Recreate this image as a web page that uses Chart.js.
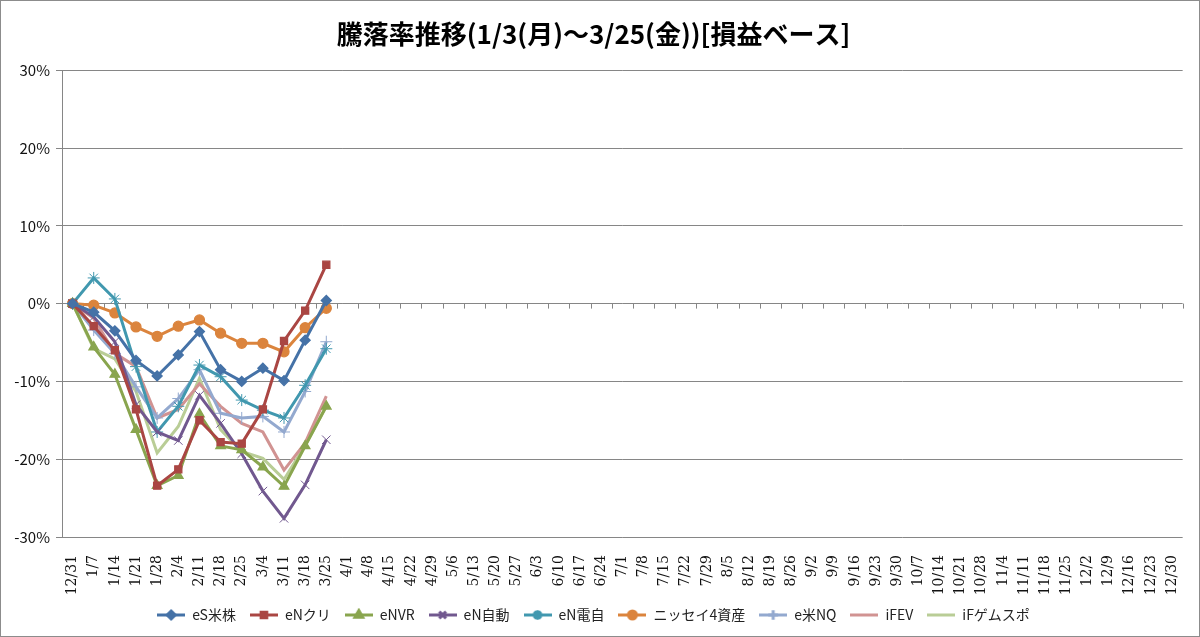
<!DOCTYPE html>
<html>
<head>
<meta charset="utf-8">
<script src="https://cdn.jsdelivr.net/npm/chart.js@4.4.1/dist/chart.umd.min.js"></script>
<style>
  html, body { margin: 0; padding: 0; background: #fff; }
  #wrap { position: relative; width: 1200px; height: 637px; box-sizing: border-box; border: 1px solid #8c8c8c; }
</style>
</head>
<body>
<div id="wrap"><canvas id="chart" width="1198" height="635"></canvas></div>
<script>
const weeks = ['12/31','1/7','1/14','1/21','1/28','2/4','2/11','2/18','2/25','3/4','3/11','3/18','3/25',
  '4/1','4/8','4/15','4/22','4/29','5/6','5/13','5/20','5/27','6/3','6/10','6/17','6/24',
  '7/1','7/8','7/15','7/22','7/29','8/5','8/12','8/19','8/26','9/2','9/9','9/16','9/23','9/30',
  '10/7','10/14','10/21','10/28','11/4','11/11','11/18','11/25','12/2','12/9','12/16','12/23','12/30'];

// 騰落率 (%)
const esBeikabu = [0, -1.1, -3.5, -7.3, -9.3, -6.6, -3.6, -8.5, -10.0, -8.3, -9.9, -4.7, 0.4];
const enKuri    = [0, -2.9, -6.0, -13.6, -23.4, -21.3, -15.0, -17.8, -18.0, -13.6, -4.8, -0.9, 5.0];
const enNVR     = [0, -5.6, -9.1, -16.2, -23.4, -22.1, -14.2, -18.3, -18.8, -21.0, -23.5, -18.3, -13.2];
const enJidou   = [0, -1.7, -4.9, -13.0, -16.5, -17.6, -11.8, -15.4, -19.3, -24.1, -27.6, -23.3, -17.5];
const enDenji   = [0, 3.3, 0.6, -8.1, -16.5, -13.2, -7.9, -9.4, -12.4, -13.7, -14.7, -10.5, -5.8];
const nissei4   = [0, -0.2, -1.2, -3.0, -4.2, -2.9, -2.1, -3.8, -5.1, -5.1, -6.2, -3.1, -0.6];
const eBeiNQ    = [0, -3.4, -6.4, -10.7, -14.7, -12.2, -8.5, -14.1, -14.7, -14.5, -16.5, -11.3, -4.9];
const ifEV      = [0, -1.9, -6.4, -8.1, -14.7, -13.6, -10.3, -13.2, -15.4, -16.5, -21.4, -17.9, -11.9];
const ifGame    = [0, -5.8, -7.1, -11.3, -19.2, -15.8, -9.6, -16.2, -19.0, -19.9, -22.6, -18.2, -13.2];

const yTicks = [-30, -20, -10, 0, 10, 20, 30];

const series = [
  { label: 'eS米株', data: esBeikabu, color: '#4572A7', style: 'rectRot', r: 5, bw: 1.3 },
  { label: 'eNクリ', data: enKuri, color: '#AA4643', style: 'rect', r: 5, bw: 1.3 },
  { label: 'eNVR', data: enNVR, color: '#89A54E', style: 'triangle', r: 5.5, bw: 1.3 },
  { label: 'eN自動', data: enJidou, color: '#71588F', style: 'crossRot', r: 6, bw: 1 },
  { label: 'eN電自', data: enDenji, color: '#4198AF', style: 'star', r: 6, bw: 1 },
  { label: 'ニッセイ4資産', data: nissei4, color: '#DB843D', style: 'circle', r: 5, bw: 1.3 },
  { label: 'e米NQ', data: eBeiNQ, color: '#93A9CF', style: 'cross', r: 6, bw: 1 },
  { label: 'iFEV', data: ifEV, color: '#D19392', style: false, r: 0, bw: 0 },
  { label: 'iFゲムスポ', data: ifGame, color: '#B9CD96', style: false, r: 0, bw: 0 }
];

function legendIcon(s) {
  const c = document.createElement('canvas');
  c.width = 28; c.height = 14;
  const g = c.getContext('2d');
  g.strokeStyle = s.color; g.lineWidth = 3;
  g.beginPath(); g.moveTo(0, 7); g.lineTo(28, 7); g.stroke();
  if (s.style) {
    g.fillStyle = s.color; g.strokeStyle = s.color;
    Chart.helpers.drawPoint(g, { pointStyle: s.style, radius: s.r * 0.8, borderWidth: s.bw, rotation: 0 }, 14, 7);
  }
  return c;
}

const font = "'Noto Sans CJK JP', 'Liberation Sans', sans-serif";

// Excel風の 0% 軸目盛り
const zeroTicks = {
  id: 'zeroTicks',
  beforeDatasetsDraw(chart) {
    const x = chart.scales.x, y = chart.scales.y, ctx = chart.ctx;
    const y0 = y.getPixelForValue(0);
    const step = (x.right - x.left) / weeks.length;
    ctx.save();
    ctx.strokeStyle = '#868686'; ctx.lineWidth = 1;
    ctx.beginPath();
    for (let i = 0; i <= weeks.length; i++) {
      const px = Math.round(x.left + i * step) + 0.5;
      ctx.moveTo(px, y0); ctx.lineTo(px, y0 + 5);
    }
    ctx.stroke();
    ctx.restore();
  }
};

new Chart(document.getElementById('chart'), {
  type: 'line',
  data: {
    labels: weeks,
    datasets: series.map(s => ({
      label: s.label,
      data: s.data,
      borderColor: s.color,
      backgroundColor: s.color,
      borderWidth: 3,
      pointStyle: s.style || 'circle',
      pointRadius: s.r,
      pointBorderWidth: s.bw,
      pointBackgroundColor: s.color,
      pointBorderColor: s.color,
      tension: 0,
      icon: legendIcon(s)
    }))
  },
  options: {
    responsive: false,
    animation: false,
    layout: { padding: { left: 0, right: 13, top: 0, bottom: 4 } },
    plugins: {
      title: {
        display: true,
        text: '騰落率推移(1/3(月)～3/25(金))[損益ベース]',
        color: '#000',
        font: { family: font, size: 26, weight: 'bold' },
        padding: { top: 18, bottom: 20 }
      },
      legend: {
        position: 'bottom',
        labels: {
          usePointStyle: true,
          pointStyleWidth: 28,
          padding: 14,
          color: '#222',
          font: { family: font, size: 14 },
          generateLabels(chart) {
            return chart.data.datasets.map((d, i) => ({
              text: d.label,
              pointStyle: d.icon,
              fillStyle: d.borderColor,
              strokeStyle: d.borderColor,
              lineWidth: 0,
              hidden: false,
              datasetIndex: i,
              fontColor: '#222'
            }));
          }
        }
      },
      tooltip: { enabled: false }
    },
    scales: {
      x: {
        offset: true,
        grid: { display: false },
        border: { display: false },
        afterFit(scale) { scale.height = 57; },
        ticks: {
          autoSkip: false,
          minRotation: 90,
          maxRotation: 90,
          padding: 10,
          color: '#111',
          font: { family: "'DejaVu Serif', serif", size: 14 }
        }
      },
      y: {
        min: -30,
        max: 30,
        afterBuildTicks(scale) { scale.ticks = yTicks.map(v => ({ value: v })); },
        afterFit(scale) { scale.width = 61; },
        grid: { color: '#868686', lineWidth: 1, tickLength: 6, drawTicks: true },
        border: { display: true, color: '#868686' },
        ticks: {
          padding: 6,
          color: '#111',
          font: { family: font, size: 15 },
          callback: v => v + '%'
        }
      }
    }
  },
  plugins: [zeroTicks]
});
</script>
</body>
</html>
